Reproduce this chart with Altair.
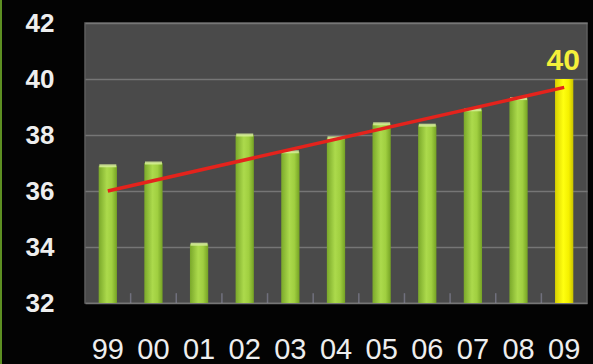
import altair as alt
import pandas as pd

years = ["99", "00", "01", "02", "03", "04", "05", "06", "07", "08", "09"]
values = [36.9, 37.0, 34.1, 38.0, 37.4, 37.9, 38.4, 38.35, 38.9, 39.3, 40.0]
highlight_year = "09"
trend_years = ["99", "09"]
trend_values = [36.0, 39.7]
y_ticks = [32, 34, 36, 38, 40, 42]

df = pd.DataFrame({"year": years, "value": values})
df["hl"] = df["year"] == highlight_year
trend = pd.DataFrame({"year": trend_years, "value": trend_values})
sep = pd.DataFrame({"year": years[:-1]})

W, H = 502, 280
step = W / len(years)

x = alt.X("year:N", sort=years,
          scale=alt.Scale(paddingInner=0.6, paddingOuter=0.3),
          axis=alt.Axis(title=None, labelAngle=0, labelColor="#eeeeee",
                        labelFont="Liberation Sans", labelFontSize=29,
                        labelBaseline="alphabetic", labelPadding=55,
                        ticks=False, tickSize=0, domain=False, grid=False))
y = alt.Y("value:Q",
          scale=alt.Scale(domain=[32, 42], zero=False, nice=False),
          axis=alt.Axis(title=None, values=y_ticks, labelColor="#eeeeee",
                        labelFont="Liberation Sans", labelFontSize=26,
                        labelFontWeight="bold", labelPadding=31,
                        ticks=False, tickSize=0, domain=False,
                        grid=True, gridColor="#767676", gridWidth=1.6))

green = alt.LinearGradient(gradient="linear", x1=0, x2=1, y1=0, y2=0, stops=[
    alt.GradientStop(color="#7aa82a", offset=0),
    alt.GradientStop(color="#acda4c", offset=0.45),
    alt.GradientStop(color="#a0cf40", offset=0.72),
    alt.GradientStop(color="#75a224", offset=1)])
yellow = alt.LinearGradient(gradient="linear", x1=0, x2=1, y1=0, y2=0, stops=[
    alt.GradientStop(color="#d8d000", offset=0),
    alt.GradientStop(color="#ffff10", offset=0.45),
    alt.GradientStop(color="#f4f000", offset=0.75),
    alt.GradientStop(color="#c8c000", offset=1)])

base = alt.Chart(df)

bars_g = base.transform_filter("!datum.hl").mark_bar(color=green).encode(
    x=x, y=y, y2=alt.datum(32))
bars_y = base.transform_filter("datum.hl").mark_bar(color=yellow).encode(
    x=x, y=y, y2=alt.datum(32))
caps = base.transform_filter("!datum.hl").mark_tick(
    color="#d6ee98", thickness=3, size=17, opacity=0.85).encode(x=x, y=y)

seps = alt.Chart(sep).mark_rule(color="#8a8aa0", strokeWidth=1.5, opacity=0.6,
                                xOffset=step / 2).encode(
    x=x, y=alt.datum(32), y2=alt.datum(32.35))

line = alt.Chart(trend).mark_line(color="#e4231c", strokeWidth=3.5).encode(
    x=x, y=y)

label = base.transform_filter("datum.hl").mark_text(
    color="#f5f03a", font="Liberation Sans", fontSize=30, fontWeight="bold",
    baseline="alphabetic", dy=-9, dx=-1).encode(
    x=x, y=y, text=alt.Text("value:Q", format=".0f"))

edge = alt.Chart(df).mark_rule(color="#5d8f22", strokeWidth=2).encode(
    x=alt.value(-84), y=alt.value(-23), y2=alt.value(H + 61))

chart = alt.layer(seps, bars_g, bars_y, caps, line, label, edge).properties(
    width=W, height=H,
    background="#030303",
    autosize=alt.AutoSizeParams(type="none"),
    padding={"left": 85, "top": 23, "right": 6, "bottom": 61},
).configure_view(fill="#4a4a4a", stroke="#5e5e5e", strokeWidth=1.5)

chart.save("out.html", embed_options={"renderer": "svg", "actions": False})
